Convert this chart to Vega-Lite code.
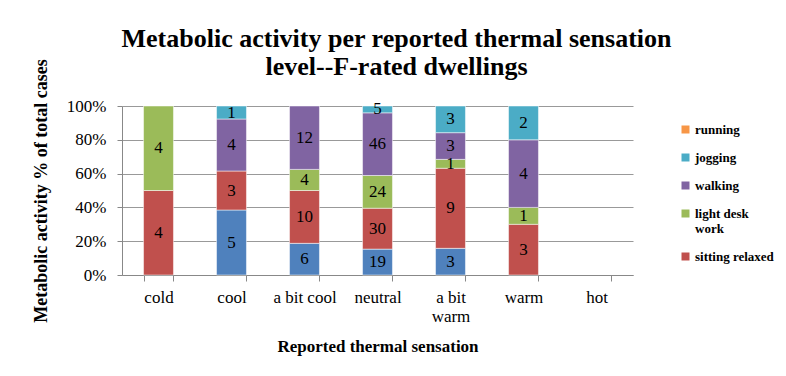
{
  "$schema": "https://vega.github.io/schema/vega-lite/v6.json",
  "width": 511,
  "height": 169,
  "autosize": {"type": "none"},
  "padding": {"left": 122, "top": 106, "right": 153, "bottom": 101},
  "background": "white",
  "title": {
    "text": ["Metabolic activity per reported thermal sensation", "level--F-rated dwellings"],
    "font": "Liberation Serif",
    "fontSize": 26,
    "fontWeight": "bold",
    "color": "black",
    "anchor": "middle",
    "frame": "group",
    "dx": 19,
    "offset": -21,
    "lineHeight": 28
  },
  "config": {"view": {"stroke": null}},
  "data": {
    "values": [
      {"sensation": "cold", "activity": "sitting relaxed", "level": 2, "n": 4},
      {"sensation": "cold", "activity": "light desk work", "level": 3, "n": 4},
      {"sensation": "cool", "activity": "reclining", "level": 1, "n": 5},
      {"sensation": "cool", "activity": "sitting relaxed", "level": 2, "n": 3},
      {"sensation": "cool", "activity": "walking", "level": 4, "n": 4},
      {"sensation": "cool", "activity": "jogging", "level": 5, "n": 1},
      {"sensation": "a bit cool", "activity": "reclining", "level": 1, "n": 6},
      {"sensation": "a bit cool", "activity": "sitting relaxed", "level": 2, "n": 10},
      {"sensation": "a bit cool", "activity": "light desk work", "level": 3, "n": 4},
      {"sensation": "a bit cool", "activity": "walking", "level": 4, "n": 12},
      {"sensation": "neutral", "activity": "reclining", "level": 1, "n": 19},
      {"sensation": "neutral", "activity": "sitting relaxed", "level": 2, "n": 30},
      {"sensation": "neutral", "activity": "light desk work", "level": 3, "n": 24},
      {"sensation": "neutral", "activity": "walking", "level": 4, "n": 46},
      {"sensation": "neutral", "activity": "jogging", "level": 5, "n": 5},
      {"sensation": "a bit warm", "activity": "reclining", "level": 1, "n": 3},
      {"sensation": "a bit warm", "activity": "sitting relaxed", "level": 2, "n": 9},
      {"sensation": "a bit warm", "activity": "light desk work", "level": 3, "n": 1},
      {"sensation": "a bit warm", "activity": "walking", "level": 4, "n": 3},
      {"sensation": "a bit warm", "activity": "jogging", "level": 5, "n": 3},
      {"sensation": "warm", "activity": "sitting relaxed", "level": 2, "n": 3},
      {"sensation": "warm", "activity": "light desk work", "level": 3, "n": 1},
      {"sensation": "warm", "activity": "walking", "level": 4, "n": 4},
      {"sensation": "warm", "activity": "jogging", "level": 5, "n": 2}
    ]
  },
  "transform": [
    {"stack": "n", "groupby": ["sensation"], "sort": [{"field": "level", "order": "ascending"}], "offset": "normalize", "as": ["y0", "y1"]}
  ],
  "encoding": {
    "x": {
      "field": "sensation",
      "type": "nominal",
      "sort": null,
      "scale": {"domain": ["cold", "cool", "a bit cool", "neutral", "a bit warm", "warm", "hot"], "paddingInner": 0.59, "paddingOuter": 0.295},
      "axis": {
        "title": "Reported thermal sensation",
        "titleFont": "Liberation Serif",
        "titleFontSize": 17,
        "titleFontWeight": "bold",
        "titleColor": "black",
        "titlePadding": 14,
        "labelFont": "Liberation Serif",
        "labelFontSize": 17,
        "labelColor": "black",
        "labelAngle": 0,
        "labelPadding": 8,
        "labelOverlap": false,
        "labelExpr": "datum.label == 'a bit warm' ? ['a bit', 'warm'] : datum.label",
        "tickBand": "extent",
        "tickSize": 6,
        "tickColor": "#888888",
        "domainColor": "#888888",
        "grid": false
      }
    },
    "y": {
      "field": "y0",
      "type": "quantitative",
      "scale": {"domain": [0, 1]},
      "axis": {
        "title": "Metabolic activity % of total cases",
        "titleFont": "Liberation Serif",
        "titleFontSize": 18,
        "titleFontWeight": "bold",
        "titleColor": "black",
        "titlePadding": 16,
        "labelFont": "Liberation Serif",
        "labelFontSize": 17,
        "labelColor": "black",
        "labelPadding": 11,
        "labelOverlap": false,
        "values": [0, 0.2, 0.4, 0.6, 0.8, 1],
        "format": ".0%",
        "tickSize": 5,
        "tickColor": "#888888",
        "domainColor": "#888888",
        "gridColor": "#999999",
        "gridWidth": 1
      }
    }
  },
  "layer": [
    {
      "mark": {"type": "bar", "stroke": "white", "strokeWidth": 0.5},
      "encoding": {
        "y2": {"field": "y1"},
        "color": {
          "field": "activity",
          "type": "nominal",
          "scale": {
            "domain": ["running", "jogging", "walking", "light desk work", "sitting relaxed", "reclining"],
            "range": ["#F79646", "#4BACC6", "#8064A2", "#9BBB59", "#C0504D", "#4F81BD"]
          },
          "legend": {
            "title": null,
            "values": ["running", "jogging", "walking", "light desk work", "sitting relaxed"],
            "orient": "none",
            "legendX": 557,
            "legendY": 17,
            "symbolType": "square",
            "symbolSize": 64,
            "symbolStrokeWidth": 0,
            "labelFont": "Liberation Serif",
            "labelFontSize": 13,
            "labelFontWeight": "bold",
            "labelColor": "black",
            "labelOffset": 3,
            "rowPadding": 14,
            "labelExpr": "datum.label == 'light desk work' ? ['light desk', 'work'] : datum.label"
          }
        }
      }
    },
    {
      "transform": [
        {"fold": ["y0", "y1"], "as": ["edge", "pos"]},
        {"aggregate": [{"op": "mean", "field": "pos", "as": "mid"}], "groupby": ["sensation", "activity", "n"]}
      ],
      "mark": {"type": "text", "font": "Liberation Serif", "fontSize": 17, "color": "black", "baseline": "middle"},
      "encoding": {
        "y": {"field": "mid", "type": "quantitative"},
        "text": {"field": "n", "type": "quantitative"}
      }
    }
  ]
}
